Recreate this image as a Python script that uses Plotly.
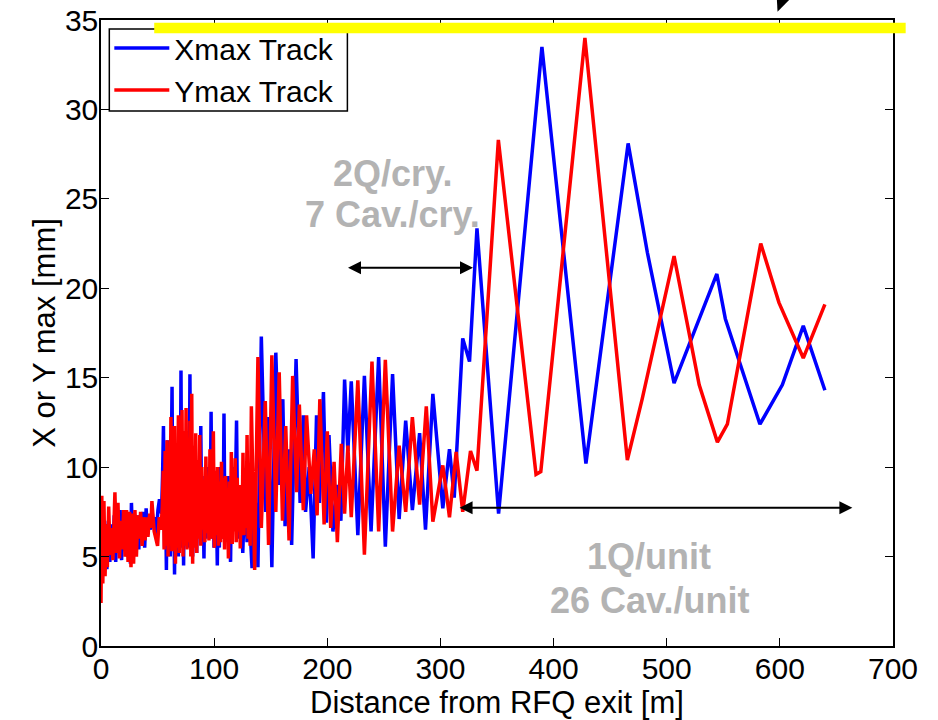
import plotly.graph_objects as go

# ---- data ----
xmax_pos = [0.0, 1.3, 2.6, 3.9, 5.2, 6.5, 7.8, 9.1, 10.4, 11.7, 13.0, 14.3, 15.6, 16.9, 18.2, 19.5,
            20.8, 22.1, 23.4, 24.7, 26.0, 26.9, 28.2, 29.5, 30.8, 32.1, 33.4, 34.7, 36.0, 37.3, 38.6,
            39.9, 41.2, 42.5, 43.8, 45.1, 46.4, 47.7, 49.0, 50.3, 51.7, 53.5, 54.4,
            55.2, 56.2, 57.0, 57.8, 58.7, 59.6, 60.4, 61.2, 62.0, 62.8, 63.6, 64.3, 65.0, 65.9, 66.8,
            67.6, 68.4, 69.2, 70.0, 70.7, 71.5, 72.3, 73.0, 73.9, 74.8, 75.7, 76.5, 77.3, 78.0, 78.6,
            79.4, 80.2, 81.0, 81.9, 82.8, 83.7, 84.6, 85.5, 86.4, 87.3, 88.2, 89.1, 90.0, 91.0, 91.9,
            92.8, 93.7, 94.6, 95.5, 96.4, 97.3, 98.2, 99.1, 99.9, 100.8, 101.7, 102.8, 103.7, 104.6,
            105.5, 106.4, 107.5, 108.0, 108.7, 109.6, 110.5, 111.4, 112.3, 113.4, 114.5, 115.4, 116.3,
            117.2, 118.3, 119.8, 120.8, 121.7, 122.5, 123.5, 124.4, 125.3, 126.2, 127.2, 128.2, 129.1,
            130.0, 131.0, 132.2, 133.5, 134.8, 136.0, 137.4, 138.7,
            141.7, 145.5, 148.0, 151.0, 154.5, 158.0, 160.7, 162.7, 166.0, 168.5, 172.4, 176.0, 178.8,
            180.8, 184.0, 187.5, 190.5, 193.0, 196.6, 199.2, 201.5, 205.0, 209.0, 212.0, 215.3, 218.2,
            221.2, 227.0, 232.8, 238.7, 245.4, 251.3, 257.7, 263.5, 269.3, 275.2, 281.6, 286.8, 293.3,
            302.1, 308.0, 312.2, 319.7, 325.7, 332.3, 351.4, 389.7, 428.6, 465.9, 482.9, 506.5, 544.3,
            551.8, 582.4, 602.2, 620.7, 639.8]
xmax_val = [4.5, 7.2, 4.0, 6.8, 4.3, 7.0, 4.7, 6.8, 5.0, 7.3, 4.7, 7.0, 5.5, 7.6, 4.8, 7.2,
            5.3, 7.5, 5.0, 7.0, 4.6, 8.0, 5.5, 7.4, 5.8, 7.3, 5.4, 7.2, 6.0, 7.5, 5.5,
            7.7, 6.2, 7.1, 6.5, 7.6, 6.6, 7.2, 6.2, 7.6, 8.2, 7.4, 9.5,
            12.3, 5.5, 8.5, 4.25, 11.5, 6.5, 9.8, 5.0, 10.5, 14.5, 5.8, 8.0, 4.0, 11.0, 6.0,
            10.0, 5.0, 11.5, 7.0, 15.4, 5.5, 9.5, 4.5, 12.0, 6.2, 10.5, 5.5, 11.0, 8.0, 15.2,
            6.0, 9.0, 5.0, 11.0, 6.0, 10.0, 5.2, 9.5, 6.5, 7.0, 12.3, 6.0, 9.0, 4.9, 9.5,
            6.0, 10.0, 6.5, 9.0, 7.0, 13.1, 6.0, 9.0, 5.5, 8.5, 9.0, 4.5, 9.5, 5.5,
            10.0, 6.0, 9.5, 7.5, 13.0, 6.0, 9.0, 6.0, 9.5, 6.5, 4.7, 9.0, 6.5,
            10.0, 7.0, 12.6, 6.5, 8.5, 6.0, 9.0, 7.0, 5.2, 7.0, 9.5, 7.5, 5.8,
            7.0, 10.0, 6.0, 4.35, 9.0, 6.5, 8.0, 4.4,
            17.3, 7.5, 12.8, 4.4, 16.4, 9.0, 13.8, 6.7, 11.0, 5.65, 16.05, 8.0, 12.9,
            7.5, 10.0, 4.9, 12.9, 8.0, 14.2, 6.9, 11.8, 6.4, 9.0, 7.0, 14.9, 10.9,
            14.8, 6.2, 15.1, 6.4, 16.15, 5.55, 15.2, 7.1, 12.6, 7.6, 11.9, 6.5, 14.1,
            7.7, 11.0, 8.3, 17.2, 15.9, 23.35, 7.4, 33.5, 10.2, 28.1, 22.0, 14.7, 20.8,
            18.3, 12.4, 14.6, 17.9, 14.3]

ymax_pos = [0.0, 0.7, 1.6, 2.6, 3.6, 4.6, 5.6, 6.8, 8.0, 9.3, 10.5, 12.3, 13.6, 15.0, 16.3, 17.5,
            18.8, 20.0, 21.3, 22.6, 23.9, 25.2, 26.5, 27.6, 28.8, 30.0, 31.3, 32.5, 33.8, 35.0, 36.3,
            37.6, 38.9, 40.0, 41.5, 43.0, 44.0, 45.0, 47.0, 48.5, 50.0, 51.5, 53.0, 54.2,
            55.0, 55.8, 56.7, 57.5, 58.4, 59.3, 60.2, 61.0, 61.8, 62.6, 63.4, 64.2, 65.0, 65.8, 66.7,
            67.5, 68.4, 69.2, 70.0, 70.8, 71.6, 72.5, 73.4, 74.3, 75.2, 76.0, 76.9, 77.7, 78.6, 79.4,
            80.2, 81.0, 81.9, 82.8, 83.7, 84.6, 85.5, 86.4, 87.3, 88.2, 89.1, 90.0, 90.9, 91.8, 92.7,
            93.6, 94.5, 95.4, 96.3, 97.2, 98.1, 98.6, 99.3, 100.2, 101.1, 102.0, 102.9, 103.8, 104.7,
            105.6, 106.5, 107.4, 108.3, 109.2, 110.1, 111.0, 111.8, 112.6, 113.5, 114.4, 115.2, 116.0,
            116.9, 117.7, 118.6, 119.5, 120.4, 121.3, 122.2, 123.1, 124.0, 124.7, 125.5, 126.4, 127.3,
            128.2, 129.1, 130.0, 130.9, 131.8, 132.9,
            135.8, 138.7, 141.7, 145.2, 148.1, 151.0, 154.5, 157.5, 160.4, 163.3, 166.2, 169.4, 172.9,
            175.3, 178.8, 181.7, 185.5, 188.5, 191.0, 193.4, 197.2, 200.0, 203.0, 206.0, 208.9, 212.4,
            215.3, 218.2, 221.2, 227.0, 232.8, 239.5, 245.4, 251.3, 257.7, 263.5, 269.3, 275.2, 281.6,
            287.5, 293.3, 302.1, 308.0, 313.9, 319.7, 326.6, 332.3, 351.2, 384.5, 388.7, 427.7, 465.2,
            478.3, 506.5, 528.7, 544.8, 553.6, 583.1, 599.2, 620.7, 639.8]
ymax_val = [2.4, 8.4, 3.5, 8.1, 3.9, 6.8, 4.4, 7.8, 5.1, 6.6, 4.8, 8.6, 5.2, 8.0, 4.9, 7.0,
            5.4, 7.6, 5.0, 7.6, 4.7, 7.5, 4.4, 7.4, 4.6, 7.6, 5.0, 7.3, 6.0, 7.5, 5.6,
            7.2, 5.9, 7.2, 6.1, 7.4, 6.6, 8.1, 6.4, 6.0, 5.6, 7.2, 6.5, 7.8,
            9.8, 5.4, 10.9, 5.6, 11.5, 5.0, 10.2, 6.0, 12.8, 5.3, 11.0, 5.8, 12.3, 4.6, 10.5,
            5.5, 12.9, 5.2, 11.8, 6.0, 13.2, 5.0, 12.0, 5.6, 13.3, 5.4, 11.5, 5.8, 12.6, 5.0,
            14.1, 4.6, 11.2, 5.5, 11.9, 5.2, 10.4, 6.0, 11.8, 5.6, 10.0, 6.5, 9.3, 5.8, 10.6,
            6.3, 9.5, 5.9, 11.0, 6.0, 9.6, 7.0, 12.0, 5.5, 9.8, 6.2, 10.0, 5.6, 9.2,
            5.8, 10.3, 6.0, 9.4, 5.4, 9.5, 6.2, 8.8, 4.9, 9.2, 6.0, 10.85, 5.7,
            9.0, 6.4, 10.5, 5.8, 9.4, 6.4, 9.0, 5.45, 8.6, 6.8, 10.8, 6.2, 9.6,
            6.6, 11.8, 6.0, 9.5, 5.6, 13.4,
            4.25, 16.15, 6.6, 13.7, 5.65, 16.25, 7.5, 15.3, 7.0, 12.3, 5.9, 15.1, 8.6,
            13.5, 7.6, 12.9, 8.5, 11.0, 7.3, 13.8, 6.8, 12.0, 6.6, 10.3, 5.8, 11.3,
            7.4, 11.2, 7.2, 14.85, 5.1, 15.9, 6.4, 16.0, 6.4, 11.2, 7.5, 12.8, 7.9,
            13.4, 6.95, 10.1, 7.2, 10.85, 7.5, 10.9, 9.8, 28.3, 9.6, 9.75, 34.0, 10.4,
            13.8, 21.8, 14.6, 11.4, 12.4, 22.5, 19.2, 16.1, 19.1]

series_names = ["Xmax Track", "Ymax Track"]
x_ticks = [0, 100, 200, 300, 400, 500, 600, 700]
y_ticks = [0, 5, 10, 15, 20, 25, 30, 35]

FONT = "Liberation Sans, Arial, Helvetica, sans-serif"
GRAY = "#b3b3b3"

fig = go.Figure()
fig.add_trace(go.Scatter(x=xmax_pos, y=xmax_val, mode="lines", name=series_names[0],
                         line=dict(color="#0000ff", width=3.5)))
fig.add_trace(go.Scatter(x=ymax_pos, y=ymax_val, mode="lines", name=series_names[1],
                         line=dict(color="#ff0000", width=3.5)))

axis_common = dict(showline=True, linecolor="black", linewidth=1.5, mirror="ticks",
                   ticks="inside", ticklen=8, tickcolor="black", tickwidth=1,
                   showgrid=False, zeroline=False,
                   tickfont=dict(family=FONT, size=30, color="black"))

fig.update_xaxes(range=[0, 700], tickvals=x_ticks, ticklabelstandoff=-5, **axis_common,
                 title=dict(text="Distance from RFQ exit [m]",
                            font=dict(family=FONT, size=31, color="black"), standoff=3))
fig.update_yaxes(range=[0, 35], tickvals=y_ticks, ticklabelstandoff=-5, **axis_common,
                 title=dict(text="X or Y max [mm]",
                            font=dict(family=FONT, size=31, color="black"), standoff=0))

# legend box, then the yellow band over it
fig.add_shape(type="rect", xref="paper", yref="paper", x0=0.0105, x1=0.3111, y0=0.8546, y1=0.9856,
              line=dict(color="black", width=1.5), fillcolor="white", layer="above")
fig.add_shape(type="rect", xref="paper", yref="paper", x0=0.0672, x1=1.016, y0=0.9788, y1=0.9957,
              line=dict(width=0), fillcolor="#ffff00", layer="above")
# clipped arrow head at the very top
fig.add_shape(type="path", xref="paper", yref="paper",
              path="M 0.8529 1.045 L 0.8542 1.0133 L 0.8790 1.045 Z",
              line=dict(width=0), fillcolor="black", layer="above")

# arrows
fig.add_annotation(x=328.8, y=21.15, ax=217.0, ay=21.15, xref="x", yref="y", axref="x", ayref="y",
                   text="", showarrow=True, arrowhead=2, arrowside="end+start", arrowsize=1.3,
                   arrowwidth=2, arrowcolor="black", standoff=0, startstandoff=0)
fig.add_annotation(x=664.1, y=7.73, ax=315.6, ay=7.73, xref="x", yref="y", axref="x", ayref="y",
                   text="", showarrow=True, arrowhead=2, arrowside="end+start", arrowsize=1.3,
                   arrowwidth=2, arrowcolor="black", standoff=0, startstandoff=0)

# grey labels
for txt, xx, yy in [("2Q/cry.", 257.9, 26.4), ("7 Cav./cry.", 257.9, 24.1),
                    ("1Q/unit", 484.7, 4.98), ("26 Cav./unit", 484.7, 2.52)]:
    fig.add_annotation(x=xx, y=yy, xref="x", yref="y", text="<b>%s</b>" % txt, showarrow=False,
                       font=dict(family=FONT, size=36, color=GRAY), xanchor="center", yanchor="middle")

fig.update_layout(
    width=938, height=720,
    margin=dict(l=101, r=45, t=20, b=74, autoexpand=False),
    plot_bgcolor="white", paper_bgcolor="white",
    showlegend=True,
    legend=dict(x=0.0105, y=0.9968, xanchor="left", yanchor="top", bgcolor="rgba(0,0,0,0)",
                borderwidth=0, font=dict(family=FONT, size=30, color="black"),
                itemwidth=55, tracegroupgap=0),
)

fig.write_html("out.html", config={"displayModeBar": False},
               post_script="document.body.style.margin='0';document.body.style.overflow='hidden';")
